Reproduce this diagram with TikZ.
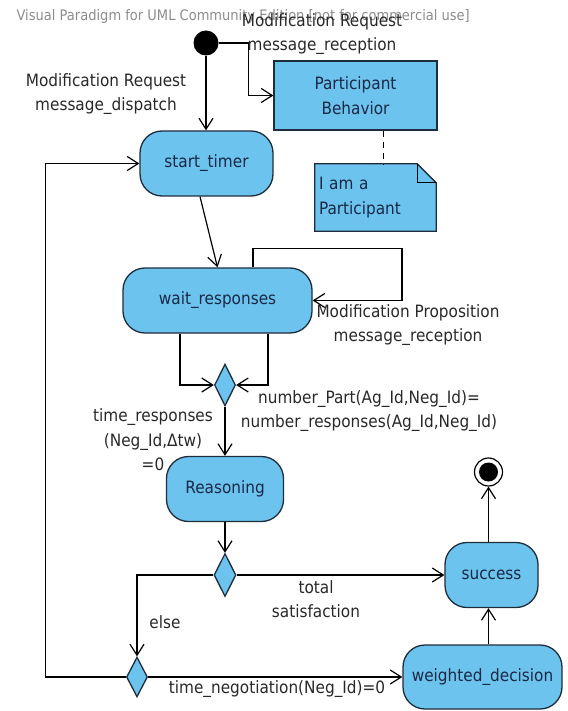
\documentclass[tikz,border=0pt]{standalone}
\usepackage{fontspec}
\setmainfont{DejaVu Sans}[FakeStretch=0.9]
\usetikzlibrary{arrows.meta,shapes.geometric,backgrounds}

\definecolor{statefill}{RGB}{108,196,238}
\definecolor{stroke}{RGB}{30,45,60}
\definecolor{inktext}{RGB}{25,40,70}
\definecolor{labeltext}{RGB}{40,40,40}

\begin{document}
\begin{tikzpicture}[x=1pt, y=-1pt, >={Straight Barb[length=11pt,width=14pt]},
  every node/.style={font=\fontsize{17}{24.5}\selectfont},
  state/.style={draw=stroke, fill=statefill, line width=1.3pt, rounded corners=22pt, text=inktext, inner sep=0pt, minimum height=65},
  box/.style={draw=stroke, fill=statefill, line width=1.3pt, text=inktext, align=center, inner sep=0pt},
  choice/.style={diamond, draw=stroke, fill=statefill, line width=1.3pt, inner sep=0pt, minimum width=21, minimum height=42},
  guard/.style={text=labeltext, align=center},
  flow/.style={->, line width=1.2pt}]
  \useasboundingbox (0,0) rectangle (567,711);
  \node[anchor=west, text=black!45, font=\fontsize{14.5}{16}\selectfont] (banner) at (13,17) {Visual Paradigm for UML Community Edition [not for commercial use]};
  \node[circle, fill=black, minimum size=25, inner sep=0pt] (init) at (206,43) {};
  \node[box, minimum width=163, minimum height=69] (partbeh) at (355.5,95.5) {Participant\\Behavior};
  \node[text=inktext, text width=113pt, align=left, minimum height=67, inner sep=4pt] (note) at (375.5,197.5) {I am a\\Participant};
  \begin{scope}[on background layer]
    \filldraw[fill=statefill, draw=stroke, line width=1.3pt] (note.north west) -- ([xshift=-19pt]note.north east) -- ([yshift=-19pt]note.north east) -- (note.south east) -- (note.south west) -- cycle;
    \draw[stroke, line width=1.3pt] ([xshift=-19pt]note.north east) |- ([yshift=-19pt]note.north east);
  \end{scope}
  \node[state, minimum width=133] (start) at (206.5,163.5) {start\_timer};
  \node[state, minimum width=189] (wait) at (217.5,300.5) {wait\_responses};
  \node[choice] (dec1) at (225,385) {};
  \node[state, minimum width=117] (reason) at (225,489) {Reasoning};
  \node[choice, minimum width=22, minimum height=43] (dec2) at (225,575) {};
  \node[state, minimum width=93] (success) at (491.5,575) {success};
  \node[choice, minimum height=40] (dec3) at (137,677) {};
  \node[state, minimum width=159, minimum height=64] (weighted) at (482.5,677) {weighted\_decision};
  \node[circle, draw, line width=1.2pt, minimum size=28, inner sep=0pt,
    path picture={\fill (path picture bounding box.center) circle (9.5);}] (final) at (488.5,472) {};
  \coordinate (tether) at (383,0);

  \draw[flow] (init.south) -- (init.south |- start.north);
  \draw[flow] (init.east) -- ++(30,0) |- (partbeh.west);
  \draw[stroke, line width=1pt, dash pattern=on 6pt off 5pt] (partbeh.south -| tether) -- (note.north -| tether);
  \draw[flow] ([xshift=-6.5pt]start.south) -- (wait.north);
  \draw[flow] ([xshift=35.5pt]wait.north) -- ++(0,-19) -- ++(149,0) |- (wait.east);
  \draw[flow] ([xshift=-37.5pt]wait.south) |- (dec1.west);
  \draw[flow] ([xshift=50.5pt]wait.south) |- (dec1.east);
  \draw[flow] (dec1.south) -- (reason.north);
  \draw[flow] (reason.south) -- (dec2.north);
  \draw[flow] (dec2.east) -- (success.west);
  \draw[flow] (dec2.west) -| (dec3.north);
  \draw[flow] (dec3.west) -- ++(-80,0) |- (start.west);
  \draw[flow] (dec3.east) -- (weighted.west);
  \draw[flow] (weighted.north -| final) -- (success.south -| final);
  \draw[flow] (success.north -| final) -- (final.south);

  \node[guard] (reqout) at (106,94) {Modification Request\\message\_dispatch};
  \node[guard] (reqin) at (322,34) {Modification Request\\message\_reception};
  \node[guard] (propin) at (408,325) {Modification Proposition\\message\_reception};
  \node[guard] (allin) at (369,411) {number\_Part(Ag\_Id,Neg\_Id)=\\number\_responses(Ag\_Id,Neg\_Id)};
  \node[guard] (timeout) at (153,440) {time\_responses\\(Neg\_Id,Δtw)\\=0};
  \node[guard] (satisf) at (316,599) {total\\satisfaction};
  \node[guard] (otherwise) at (165,622) {else};
  \node[guard] (deadline) at (277,689) {time\_negotiation(Neg\_Id)=0};
\end{tikzpicture}
\end{document}
